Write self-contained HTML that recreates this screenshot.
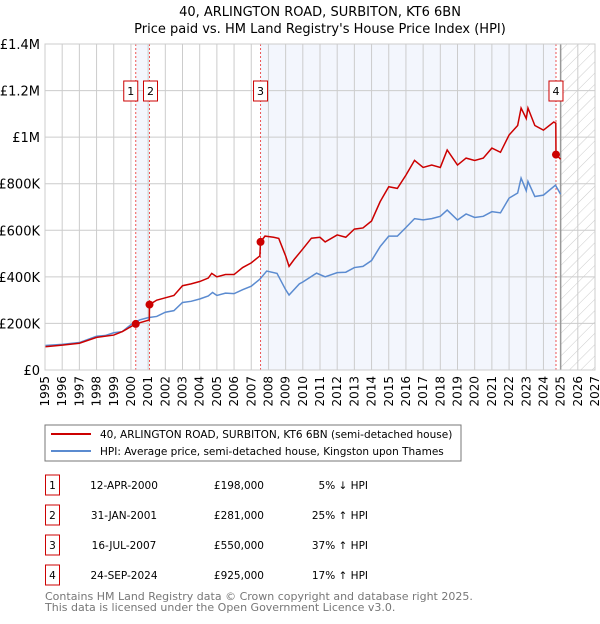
<!DOCTYPE html>
<html><head><meta charset="utf-8"><style>
body{margin:0;background:#fff;font-family:"DejaVu Sans","Liberation Sans",sans-serif;}
svg text{font-family:"DejaVu Sans","Liberation Sans",sans-serif;}
</style></head><body>
<svg id="c" width="600" height="620" xmlns="http://www.w3.org/2000/svg">
<defs><pattern id="hatch" width="8" height="8" patternUnits="userSpaceOnUse" patternTransform="rotate(45)"><line x1="0" y1="0" x2="0" y2="8" stroke="#ccc" stroke-width="1"/></pattern></defs>
<text x="320" y="16" text-anchor="middle" font-size="13">40, ARLINGTON ROAD, SURBITON, KT6 6BN</text>
<text x="320" y="33" text-anchor="middle" font-size="13">Price paid vs. HM Land Registry's House Price Index (HPI)</text>
<g id="plot"></g>
<rect x="45" y="425" width="416" height="36" fill="#fff" stroke="#777"/>
<line x1="51" y1="434" x2="91" y2="434" stroke="#cc0000" stroke-width="2"/>
<text x="100" y="438" font-size="10.5">40, ARLINGTON ROAD, SURBITON, KT6 6BN (semi-detached house)</text>
<line x1="51" y1="451" x2="91" y2="451" stroke="#5b8bd0" stroke-width="2"/>
<text x="100" y="455" font-size="10.5">HPI: Average price, semi-detached house, Kingston upon Thames</text>
<g id="table" font-size="10.5"></g>
<text x="45" y="600" font-size="11" fill="#777">Contains HM Land Registry data © Crown copyright and database right 2025.</text>
<text x="45" y="611" font-size="11" fill="#777">This data is licensed under the Open Government Licence v3.0.</text>
</svg>
<script>
const hpiYears=[1995,1996,1997,1998,1998.5,1999,1999.5,2000,2000.5,2001,2001.5,2002,2002.5,2003,2003.5,2004,2004.5,2004.75,2005,2005.5,2006,2006.5,2007,2007.5,2007.9,2008.5,2009,2009.2,2009.8,2010,2010.8,2011.3,2012,2012.5,2013,2013.5,2014,2014.5,2015,2015.5,2016,2016.5,2017,2017.5,2018,2018.4,2019,2019.5,2020,2020.5,2021,2021.5,2022,2022.5,2022.7,2023,2023.1,2023.5,2024,2024.7,2025];
const hpiValues=[105,110,118,145,148,160,165,195,215,225,230,248,255,290,295,305,318,333,320,330,328,345,360,390,425,415,345,322,370,378,416,400,418,420,440,445,470,530,575,575,612,650,645,650,660,687,644,670,655,660,680,675,738,760,824,770,810,745,751,794,755];
const redYears=[1995,1996,1997,1998,1999,1999.5,2000.28,2001.07,2001.08,2001.5,2002,2002.5,2003,2003.5,2004,2004.5,2004.7,2005,2005.5,2006,2006.5,2007,2007.5,2007.54,2007.8,2008.3,2008.6,2009,2009.2,2009.5,2010,2010.5,2011,2011.3,2012,2012.5,2013,2013.5,2014,2014.5,2015,2015.5,2016,2016.5,2017,2017.5,2018,2018.4,2019,2019.5,2020,2020.5,2021,2021.5,2022,2022.5,2022.7,2023,2023.1,2023.5,2024,2024.6,2024.72,2024.73,2025];
const redValues=[100,107,115,140,150,165,198,215,281,300,310,320,362,370,380,395,415,400,410,410,440,460,490,550,575,570,565,490,445,475,520,566,570,550,580,570,605,610,640,723,787,780,837,900,870,880,870,945,880,910,900,910,953,935,1009,1050,1125,1080,1125,1050,1030,1065,1060,925,905];
const saleYears=[2000.28,2001.08,2007.54,2024.73];
const salePrices=[198,281,550,925];
const saleLabels=["1","2","3","4"];
const yTicks=[0,200,400,600,800,1000,1200,1400];
const yTickLabels=["£0","£200K","£400K","£600K","£800K","£1M","£1.2M","£1.4M"];
const xTicks=[1995,1996,1997,1998,1999,2000,2001,2002,2003,2004,2005,2006,2007,2008,2009,2010,2011,2012,2013,2014,2015,2016,2017,2018,2019,2020,2021,2022,2023,2024,2025,2026,2027];
const tableDates=["12-APR-2000","31-JAN-2001","16-JUL-2007","24-SEP-2024"];
const tablePrices=["£198,000","£281,000","£550,000","£925,000"];
const tableHpi=["5% ↓ HPI","25% ↑ HPI","37% ↑ HPI","17% ↑ HPI"];

const NS="http://www.w3.org/2000/svg";
const X0=45,X1=595,Y0=370,Y1=44;
const xs=y=>X0+(y-1995)/(2027-1995)*(X1-X0);
const ys=v=>Y0-v/1400*(Y0-Y1);
function mk(t,a,p){const e=document.createElementNS(NS,t);for(const k in a)e.setAttribute(k,a[k]);(p||plot).appendChild(e);return e;}
const plot=document.getElementById('plot');
let e;
e=mk('rect',{x:X0,y:Y1,width:X1-X0,height:Y0-Y1,fill:'#fff'});


e=mk('rect',{x:xs(saleYears[0]),y:Y1,width:xs(saleYears[1])-xs(saleYears[0]),height:Y0-Y1,fill:'#f3f6fd'});


e=mk('rect',{x:xs(saleYears[2]),y:Y1,width:xs(saleYears[3])-xs(saleYears[2]),height:Y0-Y1,fill:'#f3f6fd'});


e=mk('rect',{x:xs(2025),y:Y1,width:xs(2027)-xs(2025),height:Y0-Y1,fill:'url(#hatch)'});


xTicks.forEach((t,i)=>{
 e=mk('line',{x1:xs(t),x2:xs(t),y1:Y1,y2:Y0,stroke:'#ccc','stroke-width':1});
 
 
 e=mk('text',{x:0,y:0,'font-size':12,transform:`translate(${xs(t)+4},${Y0+6}) rotate(-90)`,'text-anchor':'end'});
 e.textContent=t;
 
 
});
yTicks.forEach((t,i)=>{
 e=mk('line',{x1:X0,x2:X1,y1:ys(t),y2:ys(t),stroke:'#ccc','stroke-width':1});
 
 
 e=mk('text',{x:40,y:ys(t)+5,'font-size':13,'text-anchor':'end'});
 e.textContent=yTickLabels[i];
 
 
});
e=mk('line',{x1:xs(2025),x2:xs(2025),y1:Y1,y2:Y0,stroke:'#999','stroke-width':1.5});


saleYears.forEach((s,i)=>{
 e=mk('line',{x1:xs(s),x2:xs(s),y1:Y1,y2:Y0,stroke:'#e55','stroke-width':1,'stroke-dasharray':'2,2'});
 
 
});
e=mk('polyline',{points:hpiYears.map((y,i)=>xs(y)+','+ys(hpiValues[i])).join(' '),fill:'none',stroke:'#5b8bd0','stroke-width':1.5});


e=mk('polyline',{points:redYears.map((y,i)=>xs(y)+','+ys(redValues[i])).join(' '),fill:'none',stroke:'#cc0000','stroke-width':1.5});


saleYears.forEach((s,i)=>{
 e=mk('circle',{cx:xs(s),cy:ys(salePrices[i]),r:4,fill:'#cc0000'});
 
 
 let bx=xs(s)-7; if(i==0)bx=xs(s)-12; if(i==1)bx=xs(s)-6;
 const g=mk('g',{});
 
 
 mk('rect',{x:bx,y:81,width:14,height:20,fill:'#fff',stroke:'#cc0000'},g);
 const t=mk('text',{x:bx+7,y:95,'font-size':11,'text-anchor':'middle'},g);t.textContent=saleLabels[i];
});
e=mk('rect',{x:X0,y:Y1,width:X1-X0,height:Y0-Y1,fill:'none',stroke:'#ccc'});


const tb=document.getElementById('table');
tableDates.forEach((d,i)=>{
 const cy=484+i*30;
 const g=mk('g',{},tb);
 
 
 mk('rect',{x:45.5,y:cy-9,width:14,height:20,fill:'#fff',stroke:'#cc0000'},g);
 let t=mk('text',{x:52.5,y:cy+5,'text-anchor':'middle'},g);t.textContent=saleLabels[i];
 t=mk('text',{x:124,y:cy+5,'text-anchor':'middle'},g);t.textContent=d;
 t=mk('text',{x:264,y:cy+5,'text-anchor':'end'},g);t.textContent=tablePrices[i];
 t=mk('text',{x:368,y:cy+5,'text-anchor':'end'},g);t.textContent=tableHpi[i];
});
</script>
</body></html>
